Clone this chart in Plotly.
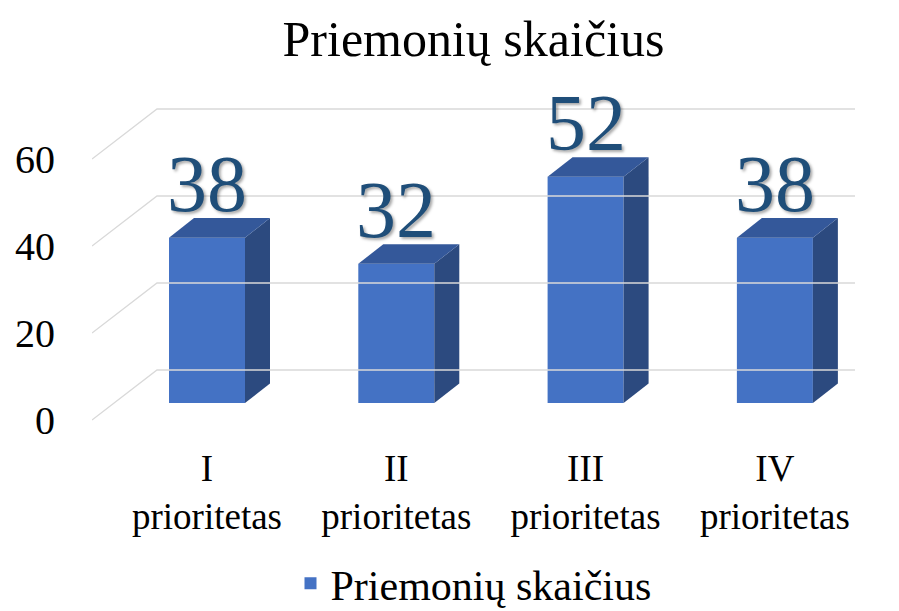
import plotly.graph_objects as go

categories = ["I<br>prioritetas", "II<br>prioritetas", "III<br>prioritetas", "IV<br>prioritetas"]
values = [38, 32, 52, 38]
series_name = "Priemonių skaičius"
title_text = "Priemonių skaičius"
y_ticks = [0, 20, 40, 60]

FONT = "Times New Roman"
FRONT = "#4472C4"
SIDE = "#2C4A7F"
TOP = "#34589A"
GRID = "#D9D9D9"

# geometry (axis units)
PXX = 189.3          # px per category
PXY = 4.35           # px per value unit
bw = 76 / PXX        # bar width
bdx = 25 / PXX       # bar depth x
bdy = 19.6 / PXY     # bar depth y
wdx = 65 / PXX       # wall depth x
wdy = 50 / PXY       # wall depth y
x0 = -0.6075
x1 = 3.4232

xs = list(range(len(values)))
fig = go.Figure()

# gridlines (front-plane axis y2, going back to the wall)
gx, gy = [], []
for v in y_ticks:
    gx += [x0, x0 + wdx, x1, None]
    gy += [v, v + wdy, v + wdy, None]
fig.add_trace(go.Scatter(x=gx, y=gy, yaxis="y2", mode="lines",
                         line=dict(color=GRID, width=1.3), hoverinfo="skip",
                         showlegend=False))

# side and top faces
for i, v in zip(xs, values):
    r = i + bw / 2
    l = i - bw / 2
    fig.add_trace(go.Scatter(x=[r, r + bdx, r + bdx, r, r], y=[0, bdy, v + bdy, v, 0],
                             mode="lines", fill="toself", fillcolor=SIDE,
                             line=dict(width=0, color=SIDE), hoverinfo="skip", showlegend=False))
    fig.add_trace(go.Scatter(x=[l, l + bdx, r + bdx, r, l], y=[v, v + bdy, v + bdy, v, v],
                             mode="lines", fill="toself", fillcolor=TOP,
                             line=dict(width=0, color=TOP), hoverinfo="skip", showlegend=False))

fig.add_trace(go.Bar(x=xs, y=values, width=bw, name=series_name,
                     marker=dict(color=FRONT, line=dict(width=0)), showlegend=True))

for i, v in zip(xs, values):
    fig.add_annotation(x=i, y=v + bdy, text=str(v), showarrow=False,
                       yanchor="bottom", yshift=-12,
                       font=dict(family=FONT, size=80, color="#1F4E79",
                                 shadow="2px 2px 3px rgba(0,0,0,0.35)"))

fig.update_layout(
    width=899, height=611,
    paper_bgcolor="white", plot_bgcolor="white",
    margin=dict(l=92, r=44, t=95, b=186, autoexpand=False),
    font=dict(family=FONT, color="black"),
    title=dict(text=title_text, x=0.5, xref="paper", y=1 - 38 / 611, yanchor="middle",
               font=dict(family=FONT, size=50, color="black")),
    showlegend=True,
    legend=dict(orientation="h", x=0.5, xanchor="center", y=-0.48, yanchor="middle",
                font=dict(family=FONT, size=42, color="black")),
    xaxis=dict(range=[x0, x1], tickvals=xs, ticktext=categories, showgrid=False,
               zeroline=False, showline=False, ticks="", automargin=False,
               ticklabelstandoff=18,
               tickfont=dict(family=FONT, size=37, color="black")),
    yaxis=dict(range=[(403 - 425) / PXY, (403 - 95) / PXY], showgrid=False,
               zeroline=False, showticklabels=False, showline=False, automargin=False),
    yaxis2=dict(range=[(420 - 425) / PXY, (420 - 95) / PXY], overlaying="y",
                anchor="x", side="left", showgrid=False, zeroline=False,
                tickvals=y_ticks, ticklabelstandoff=36, showline=False, ticks="",
                automargin=False,
                tickfont=dict(family=FONT, size=40, color="black")),
)

fig.write_html("out.html", config={"displayModeBar": False},
               post_script="document.body.style.margin='0';")
